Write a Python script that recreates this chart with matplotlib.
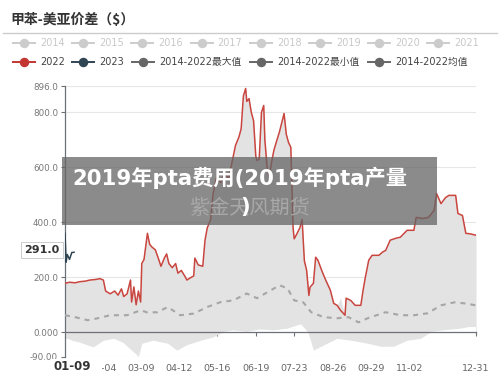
import matplotlib
matplotlib.use('Agg')
import matplotlib.pyplot as plt
import pandas as pd
from matplotlib.patches import Rectangle
from matplotlib.lines import Line2D

YEAR = 2022
CJK = ['DejaVu Sans', 'Noto Sans CJK SC']

# ---------------- data ----------------
dates_2022 = ['01-01', '01-05', '01-10', '01-14', '01-19', '01-23', '01-28', '02-01', '02-04', '02-06',
              '02-10', '02-14', '02-17', '02-20', '02-22', '02-25', '02-28', '03-01', '03-03', '03-05',
              '03-07', '03-09', '03-10', '03-12', '03-15', '03-17', '03-19', '03-22', '03-25', '03-27',
              '03-30', '04-01', '04-03', '04-06', '04-09', '04-11', '04-14', '04-17', '04-19', '04-22',
              '04-25', '04-26', '04-29', '05-03', '05-05', '05-07', '05-10', '05-12', '05-15', '05-19',
              '05-22', '05-26', '05-29', '06-01', '06-04', '06-06', '06-08', '06-10', '06-11', '06-13',
              '06-15', '06-17', '06-19', '06-20', '06-22', '06-24', '06-26', '06-27', '06-29', '07-01',
              '07-03', '07-05', '07-07', '07-10', '07-13', '07-14', '07-16', '07-18', '07-20', '07-21',
              '07-22', '07-23', '07-25', '07-28', '07-30', '08-01', '08-03', '08-05', '08-06', '08-09',
              '08-11', '08-13', '08-17', '08-20', '08-24', '08-27', '08-30', '09-02', '09-06', '09-07',
              '09-11', '09-15', '09-20', '09-22', '09-24', '09-27', '09-30', '10-06', '10-09', '10-12',
              '10-16', '10-21', '10-25', '10-31', '11-06', '11-08', '11-14', '11-19', '11-24', '11-26',
              '11-30', '12-04', '12-07', '12-13', '12-15', '12-19', '12-22', '12-26', '12-31']
vals_2022 = [178, 182, 180, 184, 186, 190, 192, 195, 190, 150,
             140, 150, 135, 158, 130, 140, 190, 110, 165, 100,
             150, 110, 250, 265, 360, 320, 310, 300, 265, 240,
             270, 285, 250, 235, 250, 215, 225, 205, 190, 198,
             205, 270, 245, 240, 335, 380, 410, 500, 560, 545,
             580, 560, 620, 680, 710, 740, 860, 887, 840, 850,
             800, 770, 640, 625, 630, 800, 825, 700, 600, 564,
             620, 662, 690, 730, 780, 796, 720, 690, 673, 520,
             380, 340, 355, 380, 410, 260, 225, 134, 164, 178,
             273, 262, 218, 189, 153, 105, 98, 80, 62, 124,
             116, 98, 98, 153, 200, 262, 280, 280, 291, 298,
             335, 342, 346, 371, 371, 418, 414, 418, 444, 505,
             468, 490, 498, 498, 432, 425, 360, 358, 353]
# 2014-2022 max (almost identical to 2022, a small bump in early September)
vals_max = [178, 182, 180, 184, 186, 190, 192, 195, 190, 150,
            140, 150, 135, 158, 130, 140, 190, 110, 165, 100,
            150, 110, 250, 265, 360, 320, 310, 300, 265, 240,
            270, 285, 250, 235, 250, 215, 225, 205, 190, 198,
            205, 270, 245, 240, 335, 380, 410, 500, 560, 545,
            580, 560, 620, 680, 710, 740, 860, 887, 840, 850,
            800, 770, 640, 625, 630, 800, 825, 700, 600, 564,
            620, 662, 690, 730, 780, 796, 720, 690, 673, 520,
            380, 340, 355, 380, 410, 260, 225, 134, 164, 178,
            273, 262, 218, 189, 153, 105, 98, 125, 62, 124,
            116, 98, 98, 153, 200, 262, 280, 280, 291, 298,
            335, 342, 346, 371, 371, 418, 414, 418, 444, 505,
            468, 490, 498, 498, 432, 425, 360, 358, 353]

dates_2023 = ['01-01', '01-02', '01-03', '01-05', '01-07', '01-09']
vals_2023 = [360, 255, 283, 265, 290, 291]

dates_min = ['01-01', '01-03', '01-08', '01-14', '01-20', '01-26', '02-04', '02-13', '02-21', '03-01',
             '03-07', '03-10', '03-20', '04-02', '04-10', '04-19', '05-01', '05-12', '05-21', '05-30',
             '06-11', '06-23', '07-05', '07-17', '07-29', '08-04', '08-09', '08-21', '08-30', '09-11',
             '09-26', '10-08', '10-19', '10-31', '11-12', '11-21', '12-02', '12-17', '12-25', '12-31']
vals_min = [-22, -22, -30, -36, -45, -53, -29, -22, -36, -65,
            -88, -40, -29, -40, -65, -45, -29, -17, 1, 7,
            2, 10, 7, 13, 29, 2, -65, -40, -22, -29,
            -40, -51, -51, -29, -22, 2, 7, 13, 19, 19]

dates_avg = ['01-01', '01-10', '01-21', '01-29', '02-10', '02-25', '03-09', '03-15', '03-24', '04-02',
             '04-13', '04-25', '05-07', '05-19', '05-30', '06-11', '06-20', '06-29', '07-10', '07-17',
             '07-23', '07-31', '08-07', '08-18', '08-30', '09-09', '09-18', '09-26', '10-12', '10-25',
             '11-06', '11-18', '11-30', '12-12', '12-21', '12-31']
vals_avg = [62, 55, 44, 50, 62, 62, 80, 72, 73, 92,
            62, 68, 92, 110, 116, 141, 124, 145, 171, 160,
            116, 109, 73, 55, 51, 55, 36, 51, 73, 62,
            62, 69, 98, 109, 105, 98]

tick_dates = ['02-04', '03-09', '04-12', '05-16', '06-19', '07-23', '08-26', '09-29', '11-02', '12-31']
y_ticks = [-90, 0, 200, 400, 600, 800, 896]
y_tick_labels = ['-90.00', '0.000', '200.0', '400.0', '600.0', '800.0', '896.0']

legend_row1 = ['2014', '2015', '2016', '2017', '2018', '2019', '2020', '2021']
legend_row2 = ['2022', '2023', '2014-2022最大值', '2014-2022最小值', '2014-2022均值']
legend_row2_colors = ['#c23531', '#2f4554', '#666666', '#666666', '#666666']

title = '甲苯-美亚价差（$）'
overlay_line1 = '2019年pta费用(2019年pta产量'
overlay_line2 = ')'
watermark = '紫金天风期货'
pointer_x = '01-09'
pointer_y = '291.0'


def to_dt(lst):
    return pd.to_datetime([f"{YEAR}-{d}" for d in lst])


# ---------------- figure ----------------
fig = plt.figure(figsize=(5, 3.84), dpi=100)
ax = fig.add_axes([65 / 500, 1 - 357 / 384, 411 / 500, 271 / 384])

x22 = to_dt(dates_2022)
ax.fill_between(to_dt(dates_min), vals_min, 0, color='#e3e3e3', lw=0, zorder=1)
ax.fill_between(x22, vals_max, 0, color='#e3e3e3', lw=0, zorder=1)
# white strip where min is above zero
ax.fill_between(to_dt(dates_min), vals_min, 0, where=[v > 0 for v in vals_min],
                interpolate=True, color='white', lw=0, zorder=1.5)
ax.plot(to_dt(dates_avg), vals_avg, color='#a6a6a6', lw=1.5, dashes=[2.4, 2.4], zorder=3)
ax.plot(x22, vals_2022, color='#c9453f', lw=1.1, zorder=4)
ax.plot(to_dt(dates_2023), vals_2023, color='#2f4554', lw=1.1, zorder=4)

ax.set_xlim(pd.Timestamp(f'{YEAR}-01-01'), pd.Timestamp(f'{YEAR}-12-31'))
ax.set_ylim(-90, 896)
ax.set_yticks(y_ticks)
ax.set_yticklabels(y_tick_labels)
ax.set_xticks(to_dt(tick_dates))
ax.set_xticklabels(tick_dates)

for s in ['top', 'right']:
    ax.spines[s].set_visible(False)
ax.spines['left'].set_color('#6e7079')
ax.spines['left'].set_linewidth(0.9)
ax.spines['bottom'].set_position(('data', 0))
ax.spines['bottom'].set_color('#6e7079')
ax.spines['bottom'].set_linewidth(0.9)
ax.spines['bottom'].set_zorder(5)
ax.tick_params(axis='y', length=3, width=0.8, color='#6e7079', labelsize=6.3,
               labelcolor='#777777', pad=2)
ax.tick_params(axis='x', length=3, width=0.8, color='#6e7079', labelsize=6.8,
               labelcolor='#666666', pad=20)
ax.yaxis.grid(True, color='#e6e6e6', lw=0.8, zorder=0)
ax.set_axisbelow(True)

# ---------------- overlay (pixel coords) ----------------
ov = fig.add_axes([0, 0, 1, 1], zorder=10)
ov.set_xlim(0, 500)
ov.set_ylim(384, 0)
ov.axis('off')
ov.patch.set_alpha(0)

ov.text(10, 20, title, fontsize=10, fontweight='bold', color='#333333',
        family=['Noto Sans CJK SC', 'DejaVu Sans'], va='center', ha='left')
ov.add_line(Line2D([3, 497], [33, 33], color='#cccccc', lw=1.0))


def legend_item(x0, y, color, label, tcolor):
    ov.add_line(Line2D([x0, x0 + 22], [y, y], color=color, lw=1.4))
    ov.plot([x0 + 11], [y], 'o', color=color, ms=5.8, mec=color)
    ov.text(x0 + 27, y, label, fontsize=7, color=tcolor, va='center', ha='left',
            family=CJK)


for i, lab in enumerate(legend_row1):
    legend_item(13 + 59.2 * i, 43, '#cccccc', lab, '#c8c8c8')
row2_x = [13, 72, 132, 250, 368]
for x0, lab, c in zip(row2_x, legend_row2, legend_row2_colors):
    legend_item(x0, 62, c, lab, '#444444')

# dark grey overlay banner
ov.add_patch(Rectangle((62, 157), 375, 68, facecolor=(100 / 255, 100 / 255, 100 / 255),
                       alpha=0.75, lw=0))
ov.text(250, 209, watermark, fontsize=14.5, color='#a8a8a8', ha='center', va='center',
        family=['Noto Sans CJK SC'])
ov.text(72, 178, overlay_line1, fontsize=15.3, fontweight='bold', color='white',
        ha='left', va='center', family=['DejaVu Sans', 'Noto Sans CJK SC'])
ov.text(245, 207, overlay_line2, fontsize=15.3, fontweight='bold', color='white',
        ha='center', va='center', family=['DejaVu Sans', 'Noto Sans CJK SC'])

# axis pointer labels
ov.add_patch(Rectangle((52, 359), 50, 16, facecolor='white', edgecolor='none'))
ov.text(72, 367, pointer_x, fontsize=8.5, fontweight='bold', color='#333333',
        ha='center', va='center')
ov.text(42, 250, pointer_y, fontsize=8, fontweight='bold', color='#333333',
        ha='center', va='center',
        bbox=dict(boxstyle='square,pad=0.3', facecolor='white', edgecolor='#cccccc', lw=0.7))

fig.savefig('out.png', dpi=100)
